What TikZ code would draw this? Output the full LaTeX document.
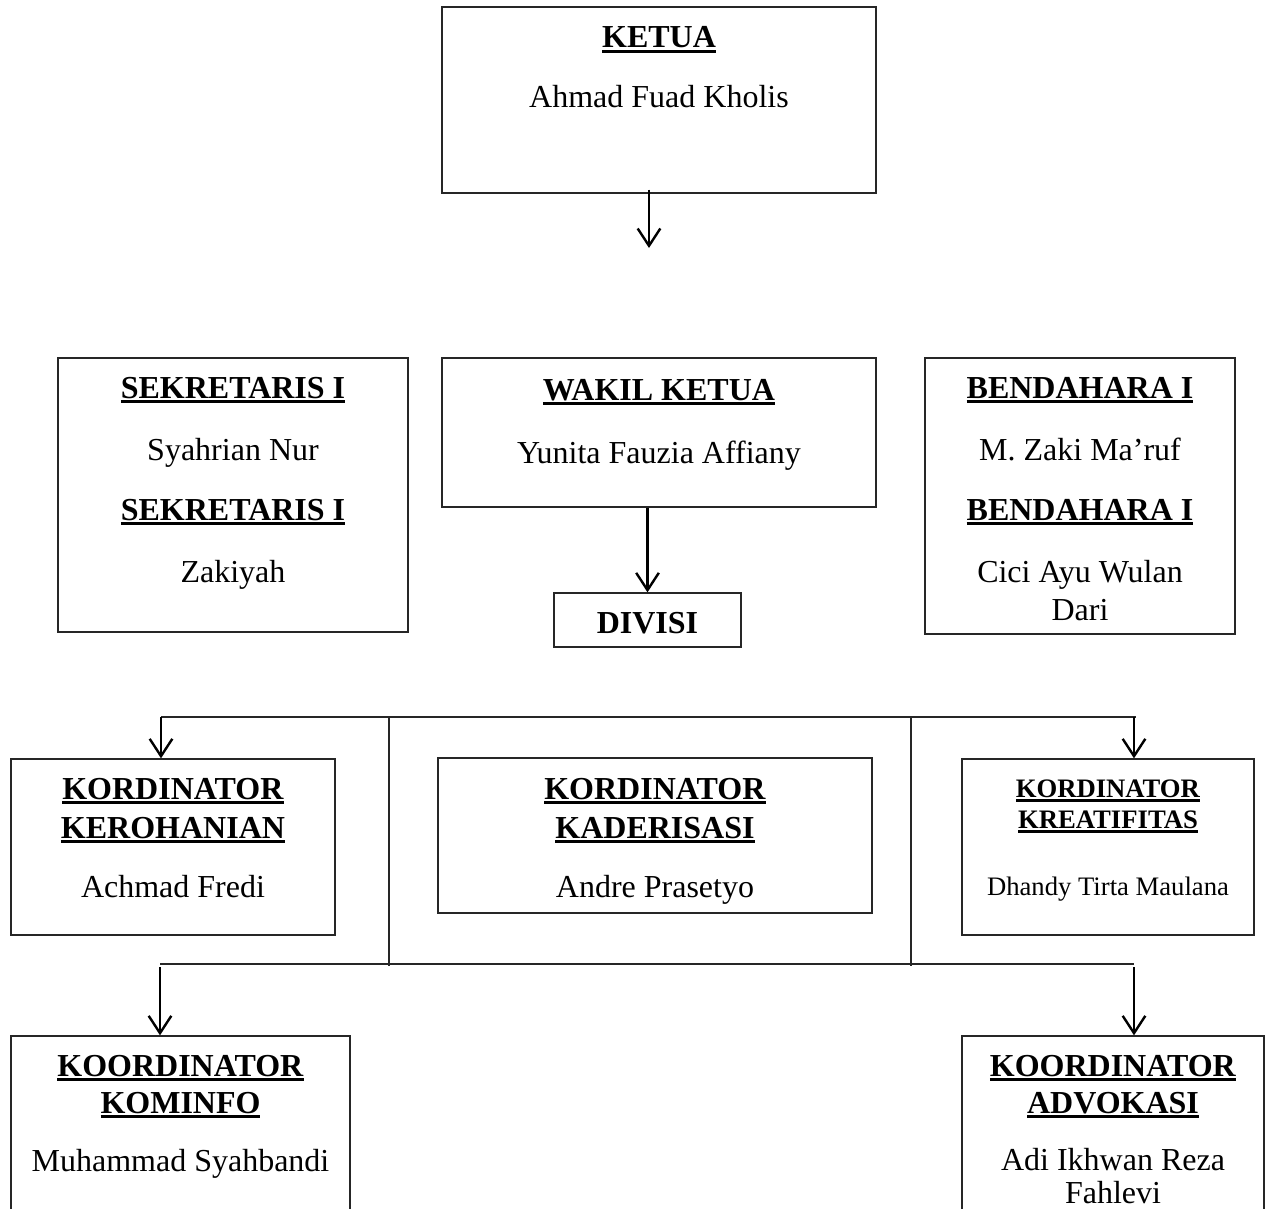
\documentclass[tikz,border=0pt]{standalone}
\usepackage{fontspec}
\setmainfont{Liberation Serif}
\usetikzlibrary{arrows.meta,fit}
\newcommand\myul[1]{\setbox0\hbox{#1}\rlap{\usebox0}\rule[-2pt]{\wd0}{1.1pt}}
\tikzset{
  box/.style={draw=black!85, line width=0.5pt, inner sep=0pt, rectangle},
  txt/.style={inner sep=0pt, anchor=base, font=\fontsize{12}{14}\selectfont},
  small/.style={inner sep=0pt, anchor=base, font=\fontsize{10}{12}\selectfont},
  conn/.style={draw=black!85, line width=0.5pt},
  arr/.style={draw=black, line width=0.9pt, -{Straight Barb[length=6.5pt,width=8.5pt,line width=0.9pt]}}
}
\begin{document}
\begin{tikzpicture}[x=0.375pt,y=-0.375pt]
\useasboundingbox (0,0) rectangle (1267,1209);
\clip (0,0) rectangle (1267,1209);
% boxes
\node[box, fit={(442,7) (876,193)}] (ketua) {};
\node[box, fit={(58,358) (408,632)}] (sekr) {};
\node[box, fit={(442,358) (876,507)}] (wakil) {};
\node[box, fit={(925,358) (1235,634)}] (bend) {};
\node[box, fit={(554,593) (741,647)}] (divisi) {};
\node[box, fit={(11,759) (335,935)}] (kero) {};
\node[box, fit={(438,758) (872,913)}] (kader) {};
\node[box, fit={(962,759) (1254,935)}] (krea) {};
\node[box, fit={(11,1036) (350,1240)}] (kominfo) {};
\node[box, fit={(962,1036) (1264,1240)}] (advo) {};
% texts
\node[txt] (t1) at (659,48) {\myul{\textbf{KETUA}}};
\node[txt] (t2) at (659,108) {Ahmad Fuad Kholis};
\node[txt] (t3) at (233,398) {\myul{\textbf{SEKRETARIS I}}};
\node[txt] (t4) at (233,460) {Syahrian Nur};
\node[txt] (t5) at (233,520) {\myul{\textbf{SEKRETARIS I}}};
\node[txt] (t6) at (233,582) {Zakiyah};
\node[txt] (t7) at (659,400) {\myul{\textbf{WAKIL KETUA}}};
\node[txt] (t8) at (659,463) {Yunita Fauzia Affiany};
\node[txt] (t9) at (1080,398) {\myul{\textbf{BENDAHARA I}}};
\node[txt] (t10) at (1080,460) {M. Zaki Ma’ruf};
\node[txt] (t11) at (1080,520) {\myul{\textbf{BENDAHARA I}}};
\node[txt] (t12) at (1080,582) {Cici Ayu Wulan};
\node[txt] (t13) at (1080,620) {Dari};
\node[txt] (t14) at (647.5,633) {\textbf{DIVISI}};
\node[txt] (t15) at (173,799) {\myul{\textbf{KORDINATOR}}};
\node[txt] (t16) at (173,838) {\myul{\textbf{KEROHANIAN}}};
\node[txt] (t17) at (173,897) {Achmad Fredi};
\node[txt] (t18) at (655,799) {\myul{\textbf{KORDINATOR}}};
\node[txt] (t19) at (655,838) {\myul{\textbf{KADERISASI}}};
\node[txt] (t20) at (655,897) {Andre Prasetyo};
\node[small] (t21) at (1108,797) {\myul{\textbf{KORDINATOR}}};
\node[small] (t22) at (1108,828) {\myul{\textbf{KREATIFITAS}}};
\node[small] (t23) at (1108,895) {Dhandy Tirta Maulana};
\node[txt] (t24) at (180.5,1076) {\myul{\textbf{KOORDINATOR}}};
\node[txt] (t25) at (180.5,1113) {\myul{\textbf{KOMINFO}}};
\node[txt] (t26) at (180.5,1171) {Muhammad Syahbandi};
\node[txt] (t27) at (1113,1076) {\myul{\textbf{KOORDINATOR}}};
\node[txt] (t28) at (1113,1113) {\myul{\textbf{ADVOKASI}}};
\node[txt] (t29) at (1113,1170) {Adi Ikhwan Reza};
\node[txt] (t30) at (1113,1203) {Fahlevi};
% coordinates
\coordinate (a1) at (649,248);
\coordinate (busL) at (161,717);
\coordinate (busR) at (1136,717);
\coordinate (busRa) at (1134,717);
\coordinate (v1t) at (389,717);
\coordinate (v1b) at (389,966);
\coordinate (v2t) at (911,717);
\coordinate (v2b) at (911,966);
\coordinate (lbL) at (160,964);
\coordinate (lbR) at (1134,964);
\coordinate (a3) at (160,967);
\coordinate (a4) at (1134,967);
% connectors
\draw[arr] (a1 |- ketua.south) ++(0,-4) -- (a1);
\draw[arr] (divisi.north |- wakil.south) -- (divisi.north);
\draw[conn] (busL) -- (busR);
\draw[arr] (busL) -- (busL |- kero.north);
\draw[arr] (busRa) -- (busRa |- krea.north);
\draw[conn] (v1t) -- (v1b);
\draw[conn] (v2t) -- (v2b);
\draw[conn] (lbL) -- (lbR);
\draw[arr] (a3) -- (a3 |- kominfo.north);
\draw[arr] (a4) -- (a4 |- advo.north);
\end{tikzpicture}
\end{document}
